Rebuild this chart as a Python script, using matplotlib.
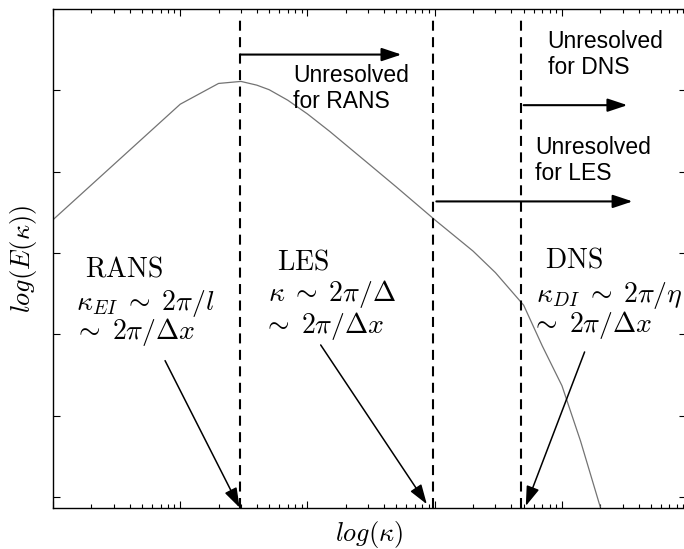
import matplotlib
matplotlib.use('Agg')
import matplotlib.pyplot as plt
import numpy as np

plt.rcParams['mathtext.fontset'] = 'cm'

# energy spectrum (kappa, log E)
kappa = [1, 10, 20, 30, 40, 50, 70, 100, 150, 200, 300, 500, 1000,
         2000, 3000, 5000, 7000, 10000, 14000, 20000]
logE = [3.41, 4.83, 5.085, 5.11, 5.064, 5.008, 4.879, 4.71, 4.494, 4.331,
        4.102, 3.812, 3.41, 3.025, 2.76, 2.36, 1.86, 1.37, 0.69, -0.12]

# cut-off wavenumbers (dashed lines)
cutoffs = [29.3, 975, 4800]

# horizontal "unresolved" arrows: (x start, x end, y)
h_arrows = [(29.6, 548, 5.44), (5000, 32700, 4.818), (1030, 35900, 3.635)]
h_labels = ['Unresolved\nfor RANS', 'Unresolved\nfor DNS', 'Unresolved\nfor LES']
h_label_pos = [(77.6, 4.778), (7720, 5.199), (6150, 3.897)]

# diagonal arrows: (x tail, y tail, x head, y head)
d_arrows = [(7.6, 1.678, 29.3, -0.129),
            (127, 1.871, 867, -0.086),
            (15070, 1.785, 5200, -0.108)]

# regime texts
reg_text = [r'$\mathrm{RANS}$', r'$\kappa_{EI}\;\sim\;2\pi/l$', r'$\sim\;2\pi/\Delta x$',
            r'$\mathrm{LES}$', r'$\kappa\;\sim\;2\pi/\Delta$', r'$\sim\;2\pi/\Delta x$',
            r'$\mathrm{DNS}$', r'$\kappa_{DI}\;\sim\;2\pi/\eta$', r'$\sim\;2\pi/\Delta x$']
reg_pos = [(1.79, 2.717), (1.52, 2.30), (1.45, 1.943),
           (57.8, 2.796), (48.8, 2.41), (44.5, 2.022),
           (7370, 2.822), (6200, 2.402), (5700, 2.03)]

fig = plt.figure(figsize=(6.84, 5.49), dpi=100)
ax = fig.add_axes([53 / 684, 41 / 549, 633 / 684, 499 / 549])

ax.plot(kappa, logE, color='0.45', lw=0.9)
ax.set_xscale('log')
ax.set_xlim(1, 10 ** 4.975)
ax.set_ylim(-0.133, 6.0)

for c in cutoffs:
    ax.plot([c, c], [-0.133, 5.86], color='black', lw=1.5, dashes=(4.8, 3.1))

for (x0, x1, y), lab, (tx, ty) in zip(h_arrows, h_labels, h_label_pos):
    ax.annotate('', xy=(x1, y), xytext=(x0, y),
                arrowprops=dict(arrowstyle='-|>,head_length=0.6,head_width=0.2',
                                color='black', lw=1.5, shrinkA=0, shrinkB=0,
                                mutation_scale=20))
    ax.text(tx, ty, lab, family=['Liberation Sans', 'DejaVu Sans'], fontsize=16.5,
            ha='left', va='baseline')

for x0, y0, x1, y1 in d_arrows:
    ax.annotate('', xy=(x1, y1), xytext=(x0, y0),
                arrowprops=dict(arrowstyle='-|>,head_length=0.6,head_width=0.2',
                                color='black', lw=1.1, shrinkA=0, shrinkB=0,
                                mutation_scale=20))

for t, (tx, ty) in zip(reg_text, reg_pos):
    ax.text(tx, ty, t, fontsize=20, ha='left', va='baseline')

ax.set_yticks([0, 1, 2, 3, 4, 5])
ax.tick_params(which='both', direction='in', top=True, right=True,
               labelbottom=False, labelleft=False)
ax.tick_params(which='major', length=5, width=0.8)
ax.tick_params(which='minor', length=3, width=0.8)
ax.yaxis.set_minor_locator(matplotlib.ticker.NullLocator())
for s in ax.spines.values():
    s.set_linewidth(1.0)

ax.set_xlabel(r'$log(\kappa)$', fontsize=19, va='center')
ax.xaxis.set_label_coords(0.5, -0.054)
ax.set_ylabel(r'$log(E(\kappa))$', fontsize=19, va='center')
ax.yaxis.set_label_coords(-0.047, 0.5)

fig.savefig('out.png', dpi=100)
